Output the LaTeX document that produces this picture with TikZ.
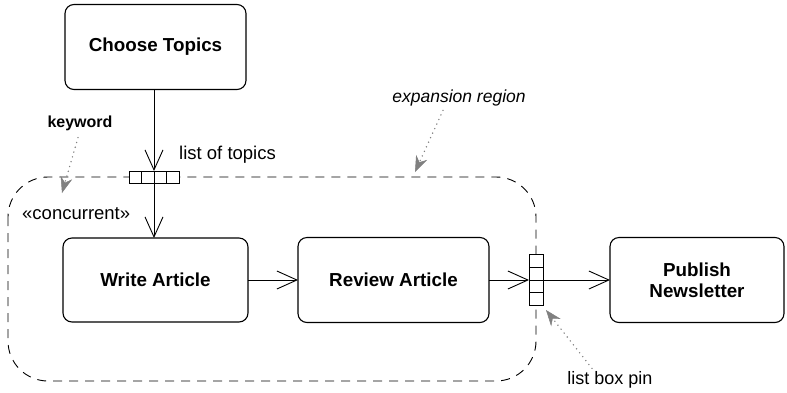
\documentclass[tikz,border=0pt]{standalone}
\usepackage{fontspec}
\setmainfont{Liberation Sans}
\usetikzlibrary{arrows.meta,calc}
\begin{document}
\begin{tikzpicture}[x=1pt,y=-1pt,
 action/.style={draw, line width=1.1pt, rounded corners=9pt, inner sep=0pt, outer sep=0pt,
   font=\fontsize{18.8}{21}\selectfont\bfseries, align=center},
 flow/.style={line width=0.9pt, -{Straight Barb[length=20pt,width=18pt,line width=0.9pt]}},
 pinbox/.style={draw, fill=white, line width=0.9pt, inner sep=0pt, outer sep=0pt},
 note/.style={font=\fontsize{15}{17}\selectfont, inner sep=0pt},
 pointer/.style={draw=gray, line width=1.6pt, line cap=round, dash pattern=on 0pt off 5pt,
   -{Stealth[length=16pt,width=12pt,color=gray,fill=gray,line width=0.5pt]}},
 plain/.style={font=\fontsize{18.5}{20}\selectfont, inner sep=0pt}
]
\useasboundingbox (0,0) rectangle (787,392);
% expansion region
\draw[dash pattern=on 9pt off 7pt, line width=0.9pt, rounded corners=40pt]
  (8,177) rectangle (536,381);
% actions
\node[action, minimum width=181pt, minimum height=85pt] (choose) at (155.5,47) {Choose Topics};
\node[action, minimum width=185pt, minimum height=84pt] (write) at (155.5,280) {Write Article};
\node[action, minimum width=191pt, minimum height=85pt] (review) at (393.5,280) {Review Article};
\node[action, minimum width=174pt, minimum height=85pt] (publish) at (697,280) {Publish\\Newsletter};
% pins
\node[pinbox, minimum width=50pt, minimum height=12pt] (toppin) at (154,177) {};
\foreach \f in {0.25,0.5,0.75}
  \draw[line width=0.9pt] ($(toppin.north west)!\f!(toppin.north east)$) -- ($(toppin.south west)!\f!(toppin.south east)$);
\node[pinbox, minimum width=14pt, minimum height=51pt] (rpin) at (536,280) {};
\foreach \f in {0.25,0.5,0.75}
  \draw[line width=0.9pt] ($(rpin.north west)!\f!(rpin.south west)$) -- ($(rpin.north east)!\f!(rpin.south east)$);
% flows
\draw[flow] (choose.south -| toppin.north) -- (toppin.north);
\draw[flow] (toppin.south) -- (toppin.south |- write.north);
\draw[flow] (write.east) -- (review.west);
\draw[flow] (review.east) -- (rpin.west);
\draw[flow] (rpin.east) -- (publish.west);
% texts
\node[plain, anchor=west] (lot) at (179,155) {list of topics};
\node[plain, anchor=west] (conc) at (22,214) {«concurrent»};
\node[note, font=\fontsize{16}{18}\selectfont\bfseries] (kw) at (80,123) {keyword};
\node[note, font=\fontsize{17.5}{19}\selectfont\itshape] (exp) at (459,98) {expansion region};
\node[note, font=\fontsize{18}{20}\selectfont] (lbp) at (610,380) {list box pin};
% pointers
\coordinate (kwtip) at (62,193);
\coordinate (exptip) at (415,172);
\coordinate (lbptip) at (546,310);
\draw[pointer] ([xshift=-2pt,yshift=-7pt]kw.south) -- (kwtip);
\draw[pointer] ([xshift=-16pt,yshift=-4pt]exp.south) -- (exptip);
\draw[pointer] ([xshift=-18pt,yshift=3pt]lbp.north) -- (lbptip);
\end{tikzpicture}
\end{document}
